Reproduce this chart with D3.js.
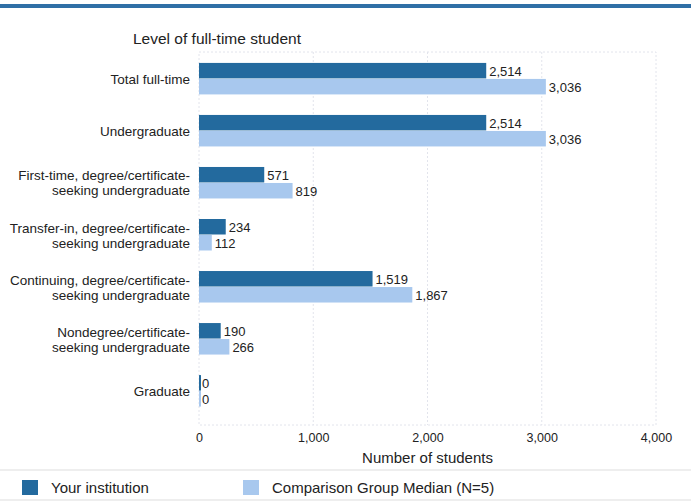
<!DOCTYPE html>
<html>
<head>
<meta charset="utf-8">
<script src="https://cdn.jsdelivr.net/npm/d3@7"></script>
<style>
  body { margin: 0; background: #fff; font-family: "Liberation Sans", Arial, sans-serif; }
  text { fill: #222; }
</style>
</head>
<body>
<div id="viz-container"></div>
<script>
var categories = [
	["Total full-time"],
	["Undergraduate"],
	["First-time, degree/certificate-", "seeking undergraduate"],
	["Transfer-in, degree/certificate-", "seeking undergraduate"],
	["Continuing, degree/certificate-", "seeking undergraduate"],
	["Nondegree/certificate-", "seeking undergraduate"],
	["Graduate"]
];
var yourInstitution = [2514, 2514, 571, 234, 1519, 190, 0];
var comparisonMedian = [3036, 3036, 819, 112, 1867, 266, 0];
var xTicks = [0, 1000, 2000, 3000, 4000];
var seriesNames = ["Your institution", "Comparison Group Median (N=5)"];
var colors = ["#236a9e", "#a8c8ee"];

function init() {
	var svg = d3.select('#viz-container').append('svg')
		.attr('width', 691)
		.attr('height', 502);

	// top rule
	svg.append('rect').attr('x', 0).attr('y', 4).attr('width', 691).attr('height', 4).attr('fill', '#2f6fa6');

	svg.append('text').attr('x', 133).attr('y', 44)
		.style('font-size', '15.5px').text('Level of full-time student');

	var left = 199, right = 656, top = 52, bottom = 425;

	var x = d3.scaleLinear().domain([0, 4000]).range([left, right]);
	var y = d3.scaleBand().domain(d3.range(categories.length)).range([52, 418]).paddingInner(0.385).paddingOuter(0.21);

	// plot frame and grid
	svg.append('rect').attr('x', left).attr('y', top).attr('width', right - left).attr('height', bottom - top)
		.attr('fill', 'none').attr('stroke', '#e2e4ec').attr('stroke-dasharray', '2,2');
	svg.append('g').selectAll('line').data(xTicks.slice(1, -1)).enter().append('line')
		.attr('x1', function(d) { return x(d); }).attr('x2', function(d) { return x(d); })
		.attr('y1', top).attr('y2', bottom)
		.attr('stroke', '#e2e4ec').attr('stroke-dasharray', '2,2');

	var series = [yourInstitution, comparisonMedian];
	var bh = y.bandwidth() / 2;

	series.forEach(function(vals, s) {
		svg.append('g').selectAll('rect').data(vals).enter().append('rect')
			.attr('x', x(0))
			.attr('y', function(d, i) { return y(i) + s * bh; })
			.attr('width', function(d) { return Math.max(x(d) - x(0), 2); })
			.attr('height', bh - 0.5)
			.attr('fill', colors[s]);
		svg.append('g').selectAll('text').data(vals).enter().append('text')
			.attr('x', function(d) { return x(d) + 3; })
			.attr('y', function(d, i) { return y(i) + s * bh + bh / 2 + 5; })
			.style('font-size', '13px')
			.text(function(d) { return d3.format(',')(d); });
	});

	// category labels
	var lab = svg.append('g').selectAll('text').data(categories).enter().append('text')
		.attr('text-anchor', 'end')
		.style('font-size', '13.5px')
		.attr('y', function(d, i) { return y(i) + y.bandwidth() / 2 + 5 - (d.length - 1) * 7.5; });
	lab.selectAll('tspan').data(function(d) { return d; }).enter().append('tspan')
		.attr('x', 190)
		.attr('dy', function(d, j) { return j ? 15 : 0; })
		.text(function(d) { return d; });

	// x axis
	var axis = svg.append('g').attr('transform', 'translate(0,' + bottom + ')')
		.call(d3.axisBottom(x).tickValues(xTicks).tickFormat(d3.format(',')).tickSize(0).tickPadding(8));
	axis.select('.domain').remove();
	axis.selectAll('text').style('font-size', '12.5px').style('font-family', 'inherit').attr('fill', '#222');

	svg.append('text').attr('x', x(2000)).attr('y', 463).attr('text-anchor', 'middle')
		.style('font-size', '15px').text('Number of students');

	svg.append('line').attr('x1', 0).attr('x2', 691).attr('y1', 470).attr('y2', 470).attr('stroke', '#ddd');
	svg.append('line').attr('x1', 0).attr('x2', 691).attr('y1', 500).attr('y2', 500).attr('stroke', '#ddd');

	// legend
	var legX = [22, 243];
	seriesNames.forEach(function(name, s) {
		svg.append('rect').attr('x', legX[s]).attr('y', 480).attr('width', 16).attr('height', 15).attr('fill', colors[s]);
		svg.append('text').attr('x', legX[s] + 29).attr('y', 493).style('font-size', '15px').text(name);
	});
}

init();
</script>
</body>
</html>
